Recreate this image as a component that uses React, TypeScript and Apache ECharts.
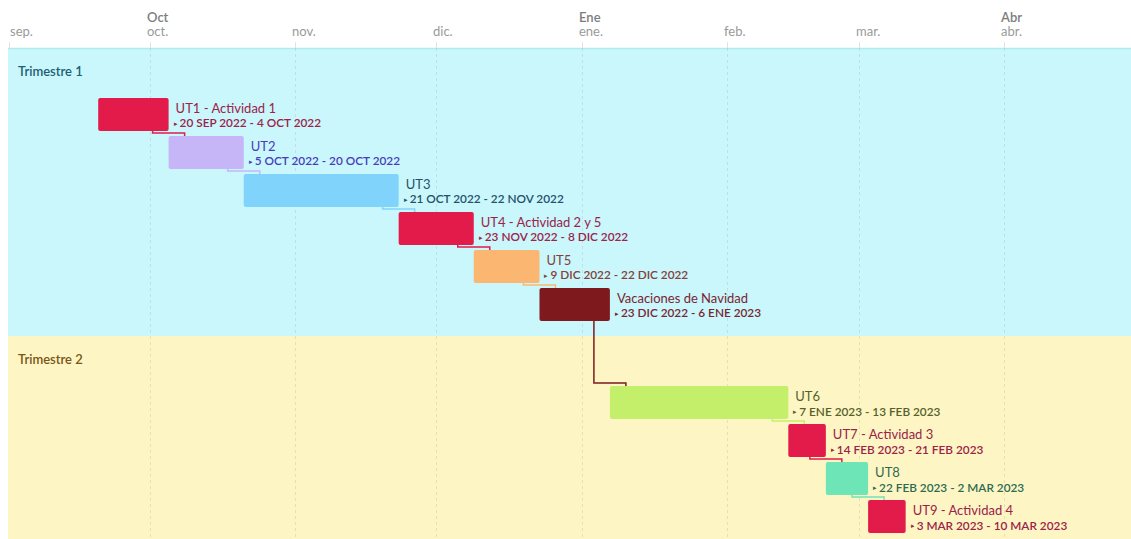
import React, { useEffect, useRef } from "react";
import * as echarts from "echarts";

// Groups (quarters)
const groupNames = ["Trimestre 1", "Trimestre 2"];
const groupFills = ["#c9f7fc", "#fdf6c4"];
const groupTextColors = ["#1d5f73", "#7a5418"];

// Tasks
const taskNames = [
  "UT1 - Actividad 1",
  "UT2",
  "UT3",
  "UT4 - Actividad 2 y 5",
  "UT5",
  "Vacaciones de Navidad",
  "UT6",
  "UT7 - Actividad 3",
  "UT8",
  "UT9 - Actividad 4",
];
const taskGroup = [0, 0, 0, 0, 0, 0, 1, 1, 1, 1];
const taskStart = [
  "2022-09-20",
  "2022-10-05",
  "2022-10-21",
  "2022-11-23",
  "2022-12-09",
  "2022-12-23",
  "2023-01-07",
  "2023-02-14",
  "2023-02-22",
  "2023-03-03",
];
const taskEnd = [
  "2022-10-04",
  "2022-10-20",
  "2022-11-22",
  "2022-12-08",
  "2022-12-22",
  "2023-01-06",
  "2023-02-13",
  "2023-02-21",
  "2023-03-02",
  "2023-03-10",
];
const taskFills = [
  "#e31b4b",
  "#c6b5f7",
  "#80d4fb",
  "#e31b4b",
  "#fbb672",
  "#7e1a1e",
  "#c3ef6a",
  "#e31b4b",
  "#6ee5b6",
  "#e31b4b",
];
const taskTextColors = [
  "#9c2248",
  "#4b3cbc",
  "#27506a",
  "#9c2248",
  "#84403a",
  "#7a2530",
  "#55602c",
  "#9c2248",
  "#2d6a52",
  "#9c2248",
];

// Time axis
const axisStart = "2022-09-01";
const axisEnd = "2023-04-28";
const monthTicks = [
  "2022-09-01",
  "2022-10-01",
  "2022-11-01",
  "2022-12-01",
  "2023-01-01",
  "2023-02-01",
  "2023-03-01",
  "2023-04-01",
];
const monthLabels = ["sep.", "oct.", "nov.", "dic.", "ene.", "feb.", "mar.", "abr."];
const quarterLabels = ["", "Oct", "", "", "Ene", "", "", "Abr"];
const monthShort = ["ENE", "FEB", "MAR", "ABR", "MAY", "JUN", "JUL", "AGO", "SEP", "OCT", "NOV", "DIC"];

const DAY = 86400000;
const FONT = "Lato, 'Open Sans', sans-serif";

const toMs = (s: string) => {
  const [y, m, d] = s.split("-").map(Number);
  return Date.UTC(y, m - 1, d);
};
const fmtDate = (s: string) => {
  const [y, m, d] = s.split("-").map(Number);
  return `${d} ${monthShort[m - 1]} ${y}`;
};

// Row layout in row units
const HEADER_ROWS = 1.25;
const PAD_ROWS = 0.33;
const VISIBLE_ROWS = 12.92;
const BAR_FRACTION = 0.87;

export default function App() {
  const ref = useRef<HTMLDivElement>(null);

  useEffect(() => {
    if (!ref.current) return;
    const chart = echarts.init(ref.current, undefined, { renderer: "svg" });

    // row positions of bands and tasks
    const bandRanges: [number, number][] = [];
    const taskRow: number[] = [];
    let cursor = 0;
    groupNames.forEach((_, gi) => {
      const top = cursor;
      cursor += HEADER_ROWS;
      taskGroup.forEach((g, ti) => {
        if (g === gi) {
          taskRow[ti] = cursor;
          cursor += 1;
        }
      });
      cursor += PAD_ROWS;
      bandRanges.push([top, cursor]);
    });

    const rowGap = (1 - BAR_FRACTION) / 2;
    const taskData = taskNames.map((n, i) => [
      toMs(taskStart[i]),
      toMs(taskEnd[i]) + DAY,
      taskRow[i] + rowGap,
      taskRow[i] + rowGap + BAR_FRACTION,
      i,
    ]);

    const option: any = {
      animation: false,
      grid: { left: 9, right: 0, top: 48, bottom: 0 },
      xAxis: {
        type: "value",
        min: toMs(axisStart),
        max: toMs(axisEnd),
        show: false,
      },
      yAxis: {
        type: "value",
        inverse: true,
        min: 0,
        max: VISIBLE_ROWS,
        show: false,
      },
      series: [
        {
          type: "custom",
          z: 1,
          data: bandRanges.map((b, i) => [b[0], b[1], i]),
          renderItem: (params: any, api: any) => {
            const cs = params.coordSys;
            const gi = api.value(2);
            const y0 = api.coord([toMs(axisStart), api.value(0)])[1];
            const y1 = api.coord([toMs(axisStart), api.value(1)])[1];
            const children: any[] = [
              {
                type: "rect",
                shape: { x: cs.x - 1, y: y0, width: cs.width + 1, height: y1 - y0 },
                style: { fill: groupFills[gi] },
              },
              {
                type: "text",
                x: cs.x + 9,
                y: y0 + 23,
                style: {
                  text: groupNames[gi],
                  fill: groupTextColors[gi],
                  font: `600 13px ${FONT}`,
                  verticalAlign: "middle",
                },
              },
            ];
            if (gi === 0) {
              children.push({
                type: "line",
                shape: { x1: cs.x - 1, y1: y0 + 0.5, x2: cs.x + cs.width, y2: y0 + 0.5 },
                style: { stroke: "#b2eaf0", lineWidth: 1.5 },
              });
            }
            return { type: "group", children };
          },
        },
        {
          type: "custom",
          z: 2,
          data: monthTicks.map((m, i) => [toMs(m), i]),
          renderItem: (params: any, api: any) => {
            const cs = params.coordSys;
            const i = api.value(1);
            const x = Math.round(api.coord([api.value(0), 0])[0]);
            const children: any[] = [];
            if (i > 0) {
              children.push({
                type: "line",
                shape: { x1: x + 0.5, y1: cs.y, x2: x + 0.5, y2: cs.y + cs.height },
                style: { stroke: "rgba(110,110,110,0.16)", lineWidth: 1, lineDash: [3, 3] },
              });
            }
            children.push({
              type: "line",
              shape: { x1: x + 0.5, y1: cs.y - 6, x2: x + 0.5, y2: cs.y },
              style: { stroke: "#e2e2e2", lineWidth: 1 },
            });
            const lx = Math.max(x - 3, cs.x + 1);
            children.push({
              type: "text",
              x: lx,
              y: cs.y - 17,
              style: {
                text: monthLabels[i],
                fill: "#9a9a9a",
                font: `13px ${FONT}`,
                verticalAlign: "middle",
              },
            });
            if (quarterLabels[i]) {
              children.push({
                type: "text",
                x: lx,
                y: cs.y - 31,
                style: {
                  text: quarterLabels[i],
                  fill: "#7d7d7d",
                  font: `600 13px ${FONT}`,
                  verticalAlign: "middle",
                },
              });
            }
            return { type: "group", children };
          },
        },
        {
          type: "custom",
          z: 3,
          data: taskData,
          renderItem: (params: any, api: any) => {
            const i = api.value(4);
            const p0 = api.coord([api.value(0), api.value(2)]);
            const p1 = api.coord([api.value(1), api.value(3)]);
            const children: any[] = [];
            if (i > 0) {
              const pe = api.coord([taskData[i - 1][1], taskData[i - 1][3]]);
              const pts = [
                [pe[0] - 16, pe[1]],
                [pe[0] - 16, p0[1] - 3],
                [p0[0] + 16, p0[1] - 3],
                [p0[0] + 16, p0[1]],
              ];
              children.push({
                type: "polyline",
                shape: { points: pts },
                style: { stroke: taskFills[i - 1], lineWidth: 1.5, fill: "none" },
                z2: 0,
              });
            }
            children.push({
              type: "rect",
              shape: { x: p0[0], y: p0[1], width: p1[0] - p0[0], height: p1[1] - p0[1], r: 2 },
              style: { fill: taskFills[i] },
              z2: 1,
            });
            children.push({
              type: "text",
              x: p1[0] + 7,
              y: p0[1] + 10,
              style: {
                text: taskNames[i],
                fill: taskTextColors[i],
                font: `13px ${FONT}`,
                verticalAlign: "middle",
              },
              z2: 2,
            });
            children.push({
              type: "text",
              x: p1[0] + 5,
              y: p0[1] + 25,
              style: {
                text: `{t|▸}{d|${fmtDate(taskStart[i])} - ${fmtDate(taskEnd[i])}}`,
                verticalAlign: "middle",
                rich: {
                  t: { fontSize: 7, fill: taskTextColors[i], fontFamily: FONT, padding: [0, 2, 0, 0] },
                  d: { fontSize: 11.8, fontWeight: 600, fill: taskTextColors[i], fontFamily: FONT },
                },
              },
              z2: 2,
            });
            return { type: "group", children };
          },
        },
      ],
    };

    chart.setOption(option);
    return () => chart.dispose();
  }, []);

  return (
    <div
      ref={ref}
      style={{ position: "fixed", left: 0, top: 0, width: 1131, height: 539, background: "#ffffff" }}
    />
  );
}
